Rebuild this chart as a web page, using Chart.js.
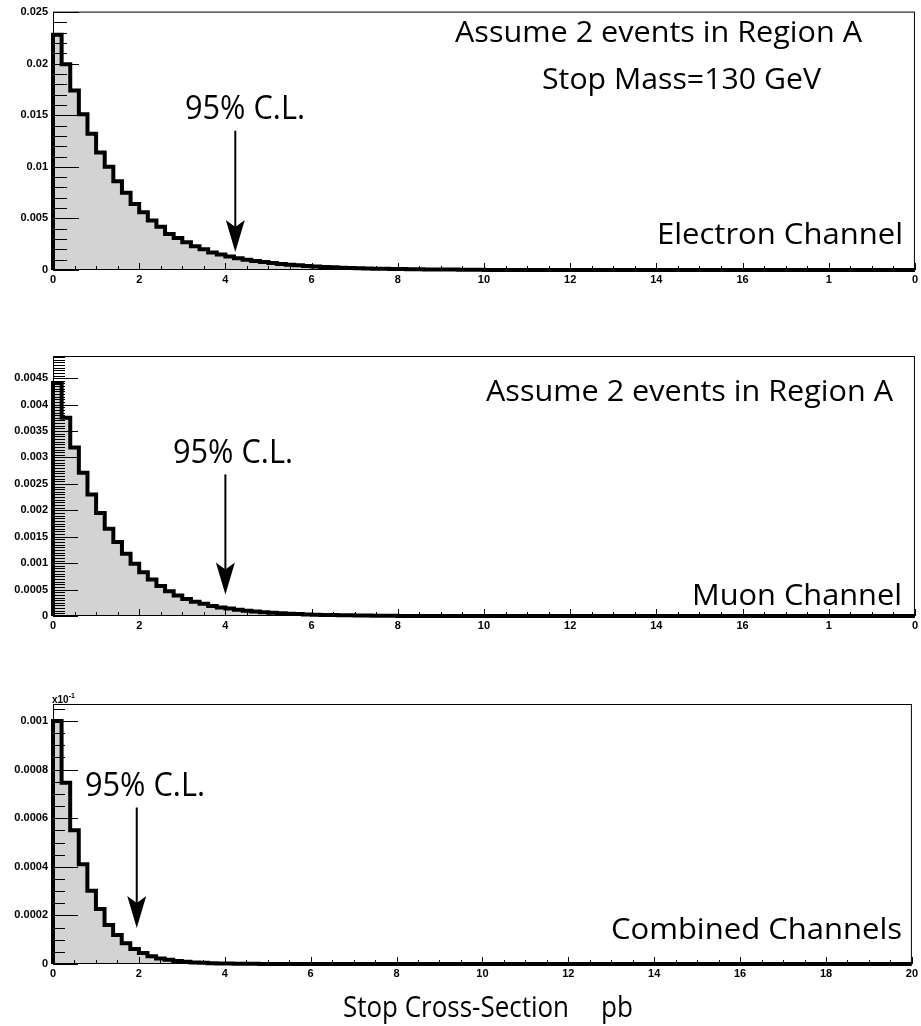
<!DOCTYPE html>
<html>
<head>
<meta charset="utf-8">
<script src="https://cdn.jsdelivr.net/npm/chart.js@4.4.0/dist/chart.umd.min.js"></script>
<style>
    body { margin: 0; background: #fff; width: 921px; height: 1026px; position: relative; overflow: hidden; }
    canvas { position: absolute; left: 0; }
</style>
</head>
<body>
<canvas id="electronChart" width="921" height="300" style="top:0px"></canvas>
<canvas id="muonChart" width="921" height="306" style="top:340px"></canvas>
<canvas id="combinedChart" width="921" height="346" style="top:680px"></canvas>
<script>
// Histogram bins: 0.2 pb wide, starting at 0
const binWidth = 0.2;

const electronValues = [
    0.0228, 0.01995, 0.0174, 0.0151, 0.0132, 0.0114, 0.0100, 0.0086, 0.0075, 0.0064,
    0.0056, 0.0048, 0.0042, 0.0035, 0.0031, 0.0027, 0.0023, 0.0020, 0.0017, 0.0015,
    0.0013, 0.00115, 0.0010, 0.00088, 0.00077, 0.00067, 0.00059, 0.00051, 0.00045, 0.00039,
    0.00034, 0.00030, 0.00026, 0.00023, 0.00020, 0.00017, 0.00015, 0.00013, 0.00011, 0.0001,
    0.00009, 0.00008, 0.00007, 0.00006, 0.00005, 0.000045, 0.00004, 0.000035, 0.00003, 0.000025
];
const muonValues = [
    0.00441, 0.00375, 0.00319, 0.00271, 0.00230, 0.00195, 0.00165, 0.00140, 0.00118, 0.00099,
    0.00083, 0.00069, 0.00057, 0.00047, 0.00039, 0.00032, 0.00027, 0.00023, 0.00019, 0.00016,
    0.00014, 0.00012, 0.0001, 0.000085, 0.00007, 0.00006, 0.00005, 0.000043, 0.000036, 0.00003,
    0.000025, 0.000021, 0.000018, 0.000015, 0.000012, 0.00001, 0.0000085, 0.000007, 0.000006, 0.000005
];
const combinedValues = [
    0.00100, 0.000746, 0.000550, 0.000410, 0.000301, 0.000226, 0.000161, 0.000119, 0.000085, 0.000062,
    0.000045, 0.000032, 0.000023, 0.000017, 0.000012, 0.0000088, 0.0000064, 0.0000047, 0.0000034, 0.0000025,
    0.0000018, 0.0000013, 0.000001, 0.0000007, 0.0000005
];

// Axis ticks
const xTickValues = [0, 2, 4, 6, 8, 10, 12, 14, 16, 18, 20];
const xTickLabelsCut = ['0', '2', '4', '6', '8', '10', '12', '14', '16', '1', '0'];
const xTickLabelsFull = ['0', '2', '4', '6', '8', '10', '12', '14', '16', '18', '20'];

const electronYTicks = [0, 0.005, 0.01, 0.015, 0.02, 0.025];
const electronYLabels = ['0', '0.005', '0.01', '0.015', '0.02', '0.025'];
const muonYTicks = [0, 0.0005, 0.001, 0.0015, 0.002, 0.0025, 0.003, 0.0035, 0.004, 0.0045];
const muonYLabels = ['0', '0.0005', '0.001', '0.0015', '0.002', '0.0025', '0.003', '0.0035', '0.004', '0.0045'];
const combinedYTicks = [0, 0.0002, 0.0004, 0.0006, 0.0008, 0.001];
const combinedYLabels = ['0', '0.0002', '0.0004', '0.0006', '0.0008', '0.001'];

// 95% C.L. arrows: x position, arrow top and tip (data units)
const clArrowX = [4.23, 4.0, 1.95];
const clArrowTop = [0.0135, 0.00268, 0.000644];
const clArrowTip = [0.00174, 0.000407, 0.000148];

const textFont = '"Open Sans", "Noto Sans", sans-serif';
const tickFont = { family: '"Liberation Sans", Arial, sans-serif', weight: 'bold', size: 11 };

function histPoints(values) {
    const pts = [{ x: 0, y: 0 }];
    values.forEach((v, i) => pts.push({ x: i * binWidth, y: v }));
    pts.push({ x: values.length * binWidth, y: 0 });
    pts.push({ x: 20, y: 0 });
    return pts;
}

function fitText(ctx, t) {
    ctx.font = `${t.size}px ${textFont}`;
    const w = ctx.measureText(t.text).width;
    ctx.save();
    ctx.translate(t.x, t.y);
    ctx.scale(t.w / w, 1);
    ctx.fillStyle = '#000';
    ctx.textBaseline = 'alphabetic';
    ctx.textAlign = 'left';
    ctx.fillText(t.text, 0, 0);
    ctx.restore();
}

// ROOT style frame: inner ticks, border, arrow and labels
function rootFramePlugin(cfg) {
    return {
        id: 'rootFrame',
        afterDatasetsDraw(chart) {
            const { ctx, chartArea: a, scales: { x, y } } = chart;
            ctx.save();
            ctx.strokeStyle = '#000';
            ctx.lineWidth = 1;
            ctx.beginPath();
            // y ticks
            for (let i = 0; ; i++) {
                const v = i * cfg.yMinor;
                if (v > y.max + 1e-12) break;
                const py = Math.round(y.getPixelForValue(v)) + 0.5;
                const r = v / cfg.yMajor;
                const major = Math.abs(r - Math.round(r)) < 1e-6;
                const len = major ? cfg.yMajorLen : cfg.yMinorLen;
                ctx.moveTo(a.left, py);
                ctx.lineTo(a.left + len, py);
            }
            // x ticks
            for (let i = 0; i <= 40; i++) {
                const px = Math.round(x.getPixelForValue(i * 0.5)) + 0.5;
                const len = i % 4 === 0 ? 7 : 4;
                ctx.moveTo(px, a.bottom);
                ctx.lineTo(px, a.bottom - len);
            }
            ctx.stroke();
            ctx.strokeRect(a.left + 0.5, a.top + 0.5, a.width - 1, a.height - 1);

            // 95% C.L. arrow
            const ax = x.getPixelForValue(cfg.arrowX);
            const aTop = y.getPixelForValue(cfg.arrowTop);
            const aTip = y.getPixelForValue(cfg.arrowTip);
            ctx.lineWidth = 2;
            ctx.beginPath();
            ctx.moveTo(ax, aTop);
            ctx.lineTo(ax, aTip - 20);
            ctx.stroke();
            ctx.fillStyle = '#000';
            ctx.beginPath();
            ctx.moveTo(ax, aTip);
            ctx.lineTo(ax - 9.5, aTip - 32);
            ctx.lineTo(ax, aTip - 25);
            ctx.lineTo(ax + 9.5, aTip - 32);
            ctx.closePath();
            ctx.fill();

            cfg.texts.forEach(t => fitText(ctx, t));
            if (cfg.extra) cfg.extra(ctx);
            ctx.restore();
        }
    };
}

function makeChart(id, values, yMax, yTicks, yLabels, xLabels, xHeight, padTop, frameCfg) {
    return new Chart(document.getElementById(id), {
        type: 'line',
        data: {
            datasets: [{
                data: histPoints(values),
                stepped: true,
                borderColor: '#000',
                borderWidth: 4,
                borderJoinStyle: 'miter',
                backgroundColor: '#d3d3d3',
                fill: 'origin',
                pointRadius: 0,
                clip: false
            }]
        },
        options: {
            responsive: false,
            animation: false,
            events: [],
            layout: { padding: { top: padTop, right: 3, left: 0, bottom: 0 } },
            plugins: { legend: { display: false }, tooltip: { enabled: false } },
            scales: {
                x: {
                    type: 'linear',
                    min: 0,
                    max: 20,
                    grid: { display: false, drawTicks: false },
                    border: { display: false },
                    afterBuildTicks: s => { s.ticks = xTickValues.map(v => ({ value: v })); },
                    afterFit: s => { s.height = xHeight; },
                    ticks: {
                        autoSkip: false,
                        maxRotation: 0,
                        padding: 3,
                        color: '#000',
                        font: tickFont,
                        callback: (v, i) => xLabels[i]
                    }
                },
                y: {
                    min: 0,
                    max: yMax,
                    grid: { display: false, drawTicks: false },
                    border: { display: false },
                    afterBuildTicks: s => { s.ticks = yTicks.map(v => ({ value: v })); },
                    afterFit: s => { s.width = 53; },
                    ticks: {
                        autoSkip: false,
                        padding: 5,
                        color: '#000',
                        font: tickFont,
                        callback: (v, i) => yLabels[i]
                    }
                }
            }
        },
        plugins: [rootFramePlugin(frameCfg)]
    });
}

makeChart('electronChart', electronValues, 0.02505, electronYTicks, electronYLabels, xTickLabelsCut, 30, 10, {
    yMinor: 0.001, yMajor: 0.005, yMajorLen: 26, yMinorLen: 14,
    arrowX: clArrowX[0], arrowTop: clArrowTop[0], arrowTip: clArrowTip[0],
    texts: [
        { text: 'Assume 2 events in Region A', x: 455, y: 42, w: 407, size: 30 },
        { text: 'Stop Mass=130 GeV', x: 542, y: 89, w: 279, size: 30 },
        { text: '95% C.L.', x: 185, y: 119, w: 120, size: 32 },
        { text: 'Electron Channel', x: 657, y: 244, w: 246, size: 30 }
    ]
});

makeChart('muonChart', muonValues, 0.00492, muonYTicks, muonYLabels, xTickLabelsCut, 30, 16, {
    yMinor: 0.00005, yMajor: 0.0005, yMajorLen: 25, yMinorLen: 12,
    arrowX: clArrowX[1], arrowTop: clArrowTop[1], arrowTip: clArrowTip[1],
    texts: [
        { text: 'Assume 2 events in Region A', x: 486, y: 61, w: 407, size: 30 },
        { text: '95% C.L.', x: 173, y: 123, w: 120, size: 32 },
        { text: 'Muon Channel', x: 692, y: 265, w: 210, size: 30 }
    ]
});

makeChart('combinedChart', combinedValues, 0.00107, combinedYTicks, combinedYLabels, xTickLabelsFull, 62, 24, {
    yMinor: 0.00005, yMajor: 0.0002, yMajorLen: 25, yMinorLen: 12,
    arrowX: clArrowX[2], arrowTop: clArrowTop[2], arrowTip: clArrowTip[2],
    texts: [
        { text: '95% C.L.', x: 85, y: 116, w: 120, size: 32 },
        { text: 'Combined Channels', x: 611, y: 259, w: 291, size: 30 },
        { text: 'Stop Cross-Section', x: 343, y: 337, w: 226, size: 30 },
        { text: 'pb', x: 601, y: 337, w: 32, size: 30 }
    ],
    extra: ctx => {
        ctx.fillStyle = '#000';
        ctx.textAlign = 'left';
        ctx.font = 'bold 10px "Liberation Sans", Arial, sans-serif';
        ctx.fillText('x10', 52, 23);
        const w = ctx.measureText('x10').width;
        ctx.font = 'bold 7px "Liberation Sans", Arial, sans-serif';
        ctx.fillText('-1', 52 + w, 18);
    }
});
</script>
</body>
</html>
